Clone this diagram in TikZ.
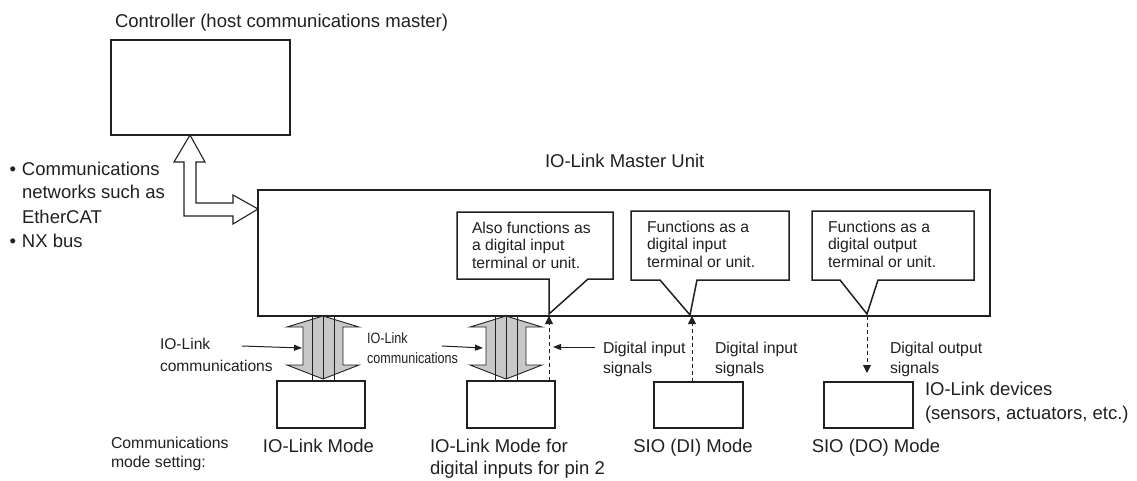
\documentclass[tikz,border=0pt]{standalone}
\usepackage{fontspec}
\setmainfont{Liberation Sans}
\newfontfamily\narrowfont[FakeStretch=0.84]{Liberation Sans}
\usetikzlibrary{calc,arrows.meta}
\definecolor{ink}{HTML}{231F20}
\definecolor{arrowgray}{HTML}{C8C8C8}
\tikzset{
  box/.style={draw=ink, line width=1.5pt, inner sep=0pt, outer sep=0pt},
  dev/.style={box, minimum width=88, minimum height=47},
  callout/.style={draw=ink, fill=white, line width=1.5pt, line join=miter},
  lbl/.style={inner sep=0pt, outer sep=0pt, align=left, anchor=base west, text=ink},
  clbl/.style={inner sep=0pt, outer sep=0pt, anchor=base, text=ink},
  bigtxt/.style={font=\fontsize{18.5}{24}\selectfont},
  titletxt/.style={font=\fontsize{18.5}{24}\selectfont},
  smalltxt/.style={font=\fontsize{15.8}{20}\selectfont},
  callouttxt/.style={font=\fontsize{15.7}{17.5}\selectfont},
  narrowtxt/.style={font=\narrowfont\fontsize{15}{20}\selectfont},
  dsh/.style={draw=ink, line width=0.9pt, dash pattern=on 4pt off 3pt},
  tiphead/.style={-{Triangle[length=8pt,width=8pt]}},
  thinarrow/.style={draw=ink, line width=1pt, -{Triangle[length=8pt,width=6pt]}},
  hollow/.style={draw=ink, fill=white, line width=1.1pt, line join=miter},
  dbl/.pic={
    \filldraw[fill=arrowgray, draw=ink, line width=0.9pt]
      (0,0) -- (-36,11) -- (-20,11) -- (-20,49) -- (-36,49) -- (0,63)
      -- (36,49) -- (20,49) -- (20,11) -- (36,11) -- cycle;
    \draw[ink, line width=0.9pt] (-11,0) -- (-11,65) (0,0) -- (0,63) (11,0) -- (11,65);
  }
}
\begin{document}
\begin{tikzpicture}[x=1pt,y=-1pt]
\useasboundingbox (0,0) rectangle (1137,481);

% main boxes
\node[box, minimum width=179, minimum height=95] (ctrl) at (200.5,87.5) {};
\node[box, minimum width=732, minimum height=126] (main) at (624,253) {};

% device boxes
\node[dev] (d1) at (321,404.5) {};
\node[dev] (d2) at (511,404.5) {};
\node[dev, minimum width=89, minimum height=46] (d3) at (698.5,405) {};
\node[dev, minimum width=89, minimum height=46] (d4) at (868.5,405) {};

% titles (anchor = baseline of the last line)
\node[lbl, titletxt] (title) at (115,28) {Controller (host communications master)};
\node[lbl, titletxt] (mtitle) at (545,168) {IO-Link Master Unit};

% network bullets
\node[lbl, bigtxt] (net) at (22,247) {\llap{•\hspace{6pt}}Communications\\networks such as\\EtherCAT\\\llap{•\hspace{6pt}}NX bus};

% hollow L-shaped double arrow
\coordinate (nA) at ($(ctrl.south west)+(79,0)$);
\coordinate (nB) at ($(main.north west)+(0,19)$);
\draw[hollow] (nA) -- ++(15,27) -- ++(-9,0) |- ($(nB)+(-25,-6)$) -- ++(0,-8) -- (nB)
  -- ++(-25,15) -- ++(0,-8) -| ($(nA)+(-6,27)$) -- ++(-10,0) -- cycle;

% callouts
\draw[callout] (457,212) -- (613,212) -- (613,279) -- (588,279) -- (549,314) -- (549,279) -- (457,279) -- cycle;
\draw[callout] (631,211) -- (789,211) -- (789,280) -- (697,280) -- (690,315) -- (660,280) -- (631,280) -- cycle;
\draw[callout] (812,211) -- (974,211) -- (974,280) -- (878,280) -- (867,314) -- (840,280) -- (812,280) -- cycle;
\node[lbl, callouttxt] (t1) at (472,268) {Also functions as\\a digital input\\terminal or unit.};
\node[lbl, callouttxt] (t2) at (647,267) {Functions as a\\digital input\\terminal or unit.};
\node[lbl, callouttxt] (t3) at (828,267) {Functions as a\\digital output\\terminal or unit.};

% gray double arrows
\coordinate (a1) at ($(main.south -| d1.north)+(2,0)$);
\coordinate (a2) at ($(main.south -| d2.north)+(-5,0)$);
\pic at (a1) {dbl};
\pic at (a2) {dbl};

% dashed signal arrows
\coordinate (s2) at ($(d2.north east)+(-6,0)$);
\coordinate (s3) at ($(d3.north)+(-6.5,0)$);
\coordinate (s4) at ($(d4.north)+(-1.5,0)$);
\coordinate (s4e) at ($(s4)+(0,-9)$);
\draw[dsh, tiphead] (s2) -- (s2 |- main.south);
\draw[dsh, tiphead] (s3) -- (s3 |- main.south);
\draw[dsh, tiphead] (s4 |- main.south) -- (s4e);

% labels with thin arrows
\node[lbl, smalltxt, font=\fontsize{15.6}{22}\selectfont] (l1) at (160,371) {IO-Link\\communications};
\coordinate (l1s) at ($(l1.base west)+(82,-25)$);
\coordinate (l1e) at ($(a1)+(-21,32)$);
\draw[thinarrow] (l1s) -- (l1e);

\node[lbl, narrowtxt] (l2) at (367,363) {IO-Link\\communications};
\coordinate (l2s) at ($(l2.base west)+(75,-17)$);
\coordinate (l2e) at ($(a2)+(-23,32)$);
\draw[thinarrow] (l2s) -- (l2e);

\node[lbl, smalltxt] (l3) at (603,373) {Digital input\\signals};
\coordinate (l3s) at ($(l3.base west)+(-8,-26)$);
\coordinate (l3e) at ($(s2)+(4,-34)$);
\draw[thinarrow] (l3s) -- (l3e);

\node[lbl, smalltxt] (l4) at (715,373) {Digital input\\signals};
\node[lbl, smalltxt] (l5) at (890,373) {Digital output\\signals};

% mode labels
\node[clbl, bigtxt] (m1) at ($(d1.south)+(-2.5,24)$) {IO-Link Mode};
\node[lbl, bigtxt, font=\fontsize{18.5}{22}\selectfont] (m2) at (430,474) {IO-Link Mode for\\digital inputs for pin 2};
\node[clbl, bigtxt] (m3) at ($(d3.south)+(-5.5,24)$) {SIO (DI) Mode};
\node[clbl, bigtxt] (m4) at ($(d4.south)+(7.5,24)$) {SIO (DO) Mode};

\node[lbl, bigtxt, font=\fontsize{18.5}{24.5}\selectfont] (devs) at (925,419.5) {IO-Link devices\\(sensors, actuators, etc.)};
\node[lbl, smalltxt, font=\fontsize{15.8}{19.5}\selectfont] (cms) at (111,467.5) {Communications\\mode setting:};
\end{tikzpicture}
\end{document}
